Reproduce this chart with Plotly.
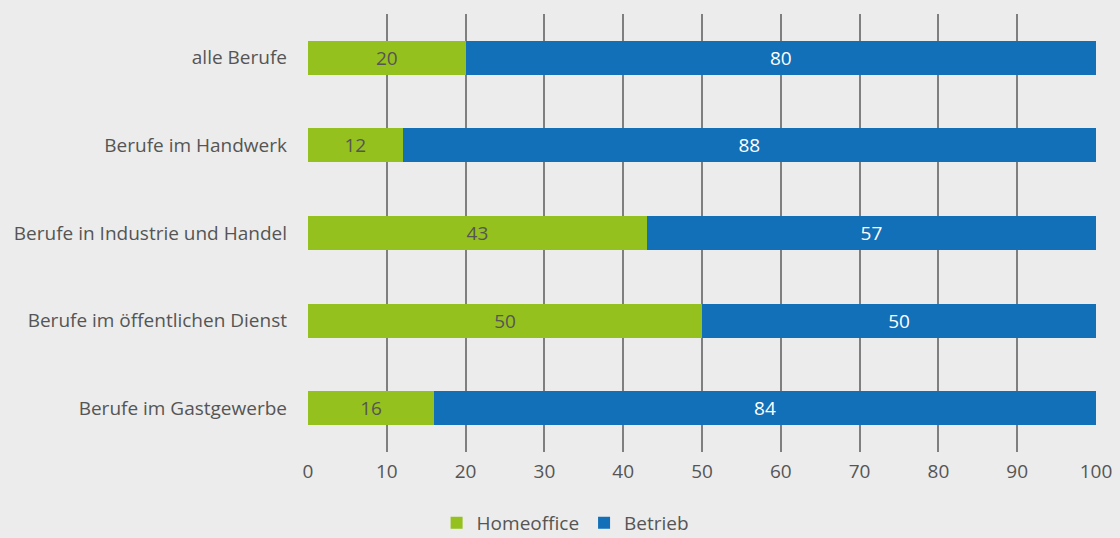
import plotly.graph_objects as go

categories = ["alle Berufe", "Berufe im Handwerk", "Berufe in Industrie und Handel",
              "Berufe im öffentlichen Dienst", "Berufe im Gastgewerbe"]
homeoffice = [20, 12, 43, 50, 16]
betrieb = [80, 88, 57, 50, 84]
tick_vals = [0, 10, 20, 30, 40, 50, 60, 70, 80, 90, 100]

font_family = "Open Sans, Noto Sans, sans-serif"
text_col = "#555555"
fs = 19

fig = go.Figure()
fig.add_trace(go.Bar(
    y=categories, x=homeoffice, name="Homeoffice", orientation="h",
    marker=dict(color="#95c11f", line=dict(width=0)),
    text=homeoffice, textposition="inside", insidetextanchor="middle",
    textfont=dict(color="#555555", size=fs, family=font_family), width=0.39,
))
fig.add_trace(go.Bar(
    y=categories, x=betrieb, name="Betrieb", orientation="h",
    marker=dict(color="#1170b8", line=dict(width=0)),
    text=betrieb, textposition="inside", insidetextanchor="middle",
    textfont=dict(color="white", size=fs, family=font_family), width=0.39,
))

fig.update_layout(
    barmode="stack",
    width=1120, height=538,
    paper_bgcolor="#ececec", plot_bgcolor="#ececec",
    margin=dict(l=308, r=24, t=14, b=86, autoexpand=False),
    font=dict(family=font_family, color=text_col, size=fs),
    showlegend=True,
    legend=dict(orientation="h", xref="container", yref="paper",
                x=0.505, xanchor="center", y=-0.162, yanchor="middle",
                font=dict(size=fs, color=text_col), itemwidth=30,
                traceorder="normal", tracegroupgap=0, bgcolor="rgba(0,0,0,0)"),
)
fig.update_xaxes(range=[0, 100], tickvals=tick_vals, showgrid=True, gridcolor="#7f7f7f",
                 gridwidth=2, zeroline=False, showline=False, ticks="",
                 ticklabelstandoff=6,
                 tickfont=dict(size=fs, color=text_col), fixedrange=True)
fig.update_yaxes(range=[4.5, -0.5], autorange=False, showgrid=False, zeroline=False,
                 ticks="", ticklabelstandoff=20,
                 tickfont=dict(size=fs, color=text_col))

fig.write_html("out.html", config={"displayModeBar": False},
               post_script="document.body.style.margin='0';document.body.style.overflow='hidden';")
